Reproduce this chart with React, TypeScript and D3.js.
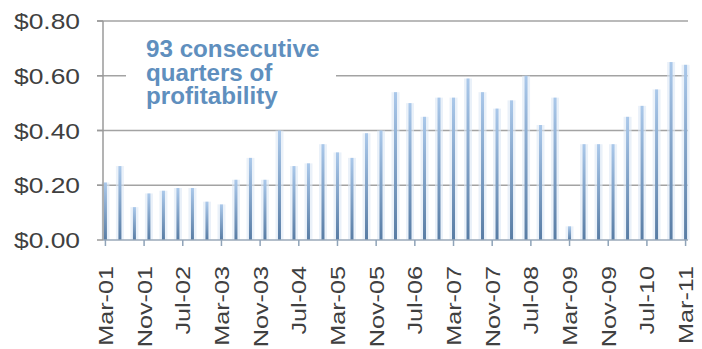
import React from "react";
import * as d3 from "d3";

// quarterly EPS, Mar-01 .. Mar-11
const quarterLabels = [
  "Mar-01", "Jun-01", "Sep-01", "Dec-01",
  "Mar-02", "Jun-02", "Sep-02", "Dec-02",
  "Mar-03", "Jun-03", "Sep-03", "Dec-03",
  "Mar-04", "Jun-04", "Sep-04", "Dec-04",
  "Mar-05", "Jun-05", "Sep-05", "Dec-05",
  "Mar-06", "Jun-06", "Sep-06", "Dec-06",
  "Mar-07", "Jun-07", "Sep-07", "Dec-07",
  "Mar-08", "Jun-08", "Sep-08", "Dec-08",
  "Mar-09", "Jun-09", "Sep-09", "Dec-09",
  "Mar-10", "Jun-10", "Sep-10", "Dec-10",
  "Mar-11",
];
const eps = [
  0.21, 0.27, 0.12, 0.17,
  0.18, 0.19, 0.19, 0.14,
  0.13, 0.22, 0.30, 0.22,
  0.40, 0.27, 0.28, 0.35,
  0.32, 0.30, 0.39, 0.40,
  0.54, 0.50, 0.45, 0.52,
  0.52, 0.59, 0.54, 0.48,
  0.51, 0.60, 0.42, 0.52,
  0.05, 0.35, 0.35, 0.35,
  0.45, 0.49, 0.55, 0.65,
  0.64,
];
const tickLabels = [
  "Mar-01", "Nov-01", "Jul-02", "Mar-03", "Nov-03", "Jul-04", "Mar-05", "Nov-05",
  "Jul-06", "Mar-07", "Nov-07", "Jul-08", "Mar-09", "Nov-09", "Jul-10", "Mar-11",
];
const yTicks = [0, 0.2, 0.4, 0.6, 0.8];
const noteLines = ["93 consecutive", "quarters of", "profitability"];

const W = 702;
const H = 349;
const fmtMonth = d3.timeFormat("%b-%y");
const months = d3
  .timeMonth.range(new Date(2001, 2, 1), new Date(2011, 3, 1))
  .map(fmtMonth);

export default function App() {
  const x = d3.scaleBand<string>().domain(months).range([103, 688]);
  const y = d3.scaleLinear().domain([0, 0.8]).range([240, 21]);
  const cx = (m: string) => (x(m) ?? 0) + x.bandwidth() / 2;
  const money = d3.format("$.2f");
  const font = "'Liberation Sans', Arial, sans-serif";

  return (
    <svg
      width={W}
      height={H}
      style={{ position: "absolute", left: 0, top: 0, background: "#fff" }}
    >
      <defs>
        <linearGradient id="barGrad" x1="0" y1="1" x2="0" y2="0">
          <stop offset="0%" stopColor="#587ca4" />
          <stop offset="100%" stopColor="#aac8ea" />
        </linearGradient>
      </defs>

      {/* gridlines */}
      {yTicks.slice(1).map((t) => (
        <line
          key={t}
          x1={97}
          x2={688}
          y1={y(t)}
          y2={y(t)}
          stroke="#a3a3a3"
          strokeWidth={1.5}
        />
      ))}

      {/* white box behind the note */}
      <rect x={126} y={30} width={210} height={88} fill="#fff" />

      {/* bars */}
      {eps.map((v, i) => {
        const m = quarterLabels[i];
        return (
          <g key={m}>
            <rect
              x={cx(m) - 4}
              y={y(v)}
              width={8}
              height={y(0) - y(v)}
              fill="#dce8f5"
              opacity={0.6}
            />
            <rect
              x={cx(m) - 1.5}
              y={y(v)}
              width={3}
              height={y(0) - y(v)}
              fill="url(#barGrad)"
            />
          </g>
        );
      })}

      {/* y axis */}
      <line x1={103} x2={103} y1={y(0.8)} y2={y(0)} stroke="#9a9a9a" strokeWidth={1.5} />
      {yTicks.map((t) => (
        <g key={t}>
          <line x1={97} x2={103} y1={y(t)} y2={y(t)} stroke="#9a9a9a" strokeWidth={1.5} />
          <text
            transform={`translate(80,${y(t) + 8}) scale(1.2,1)`}
            textAnchor="end"
            fontFamily={font}
            fontSize={22}
            fill="#404040"
          >
            {money(t)}
          </text>
        </g>
      ))}

      {/* x axis */}
      <line x1={103} x2={688} y1={y(0)} y2={y(0)} stroke="#9aa8b8" strokeWidth={1.5} />
      {tickLabels.map((m) => (
        <g key={m}>
          <line x1={cx(m)} x2={cx(m)} y1={y(0)} y2={y(0) + 6} stroke="#8fa3b8" strokeWidth={1.5} />
          <text
            transform={`translate(${cx(m) + 7.5},266) rotate(-90) scale(1.2,1)`}
            textAnchor="end"
            fontFamily={font}
            fontSize={21}
            fill="#404040"
          >
            {m}
          </text>
        </g>
      ))}

      {/* annotation */}
      {noteLines.map((s, i) => (
        <text
          key={s}
          transform={`translate(146,${57 + i * 23.5}) scale(1.03,1)`}
          fontFamily={font}
          fontSize={23.5}
          fontWeight="bold"
          fill="#5f8fbe"
        >
          {s}
        </text>
      ))}
    </svg>
  );
}
